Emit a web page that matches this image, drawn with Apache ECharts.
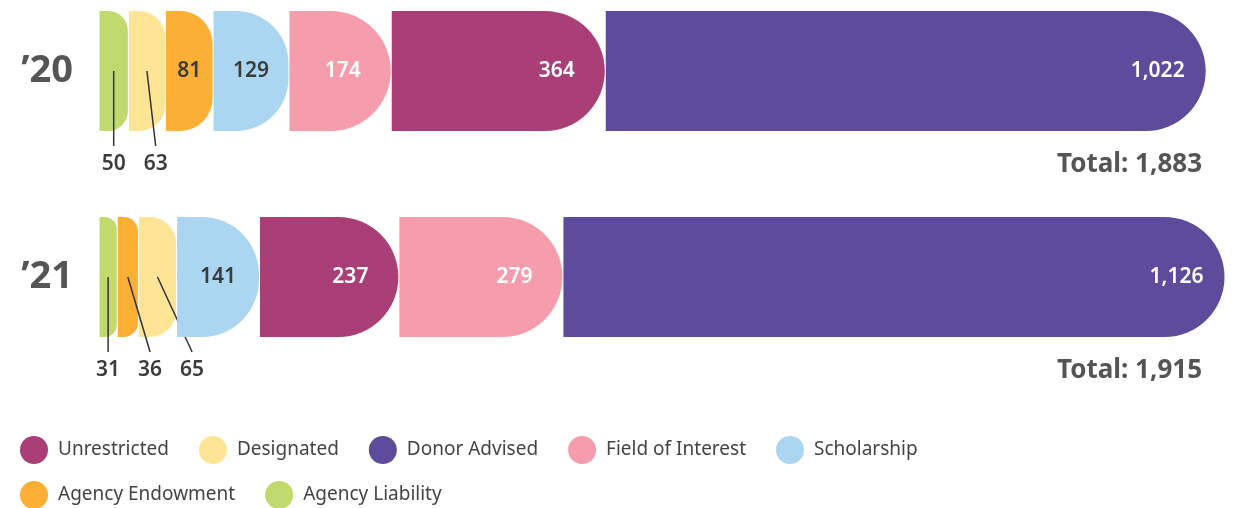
<!DOCTYPE html>
<html>
<head>
<meta charset="utf-8">
<script src="https://cdn.jsdelivr.net/npm/echarts@6/dist/echarts.min.js"></script>
<style>
  html, body { margin: 0; padding: 0; background: #fff; }
  #chart { width: 1239px; height: 508px; }
</style>
</head>
<body>
<div id="chart"></div>
<script>
var years = ['’20', '’21'];
var categories = ['Unrestricted', 'Designated', 'Donor Advised', 'Field of Interest', 'Scholarship', 'Agency Endowment', 'Agency Liability'];
var unrestricted = [364, 237];
var designated = [63, 65];
var donorAdvised = [1022, 1126];
var fieldOfInterest = [174, 279];
var scholarship = [129, 141];
var agencyEndowment = [81, 36];
var agencyLiability = [50, 31];

var valuesByCat = {
  'Unrestricted': unrestricted,
  'Designated': designated,
  'Donor Advised': donorAdvised,
  'Field of Interest': fieldOfInterest,
  'Scholarship': scholarship,
  'Agency Endowment': agencyEndowment,
  'Agency Liability': agencyLiability
};

var colors = {
  'Unrestricted': '#aa3e76',
  'Designated': '#fee596',
  'Donor Advised': '#5e4b9b',
  'Field of Interest': '#f59dac',
  'Scholarship': '#abd6f1',
  'Agency Endowment': '#fbaf34',
  'Agency Liability': '#c0da6e'
};
var darkText = { 'Designated': 1, 'Scholarship': 1, 'Agency Endowment': 1, 'Agency Liability': 1 };

var FONT = '"Noto Sans", "Open Sans", sans-serif';
var SMALL = 75;   // below this the label goes under the bar

function fmt(v) {
  return String(v).replace(/\B(?=(\d{3})+(?!\d))/g, ',');
}

// stack each year smallest first
var segsByCat = {};
var smallByRow = [[], []];
var totals = [];
categories.forEach(function (c) { segsByCat[c] = []; });
years.forEach(function (y, r) {
  var list = categories.map(function (c) { return { name: c, value: valuesByCat[c][r] }; });
  list.sort(function (a, b) { return a.value - b.value; });
  var acc = 0;
  list.forEach(function (s) {
    var item = [acc, acc + s.value, r, s.value, s.value < SMALL ? smallByRow[r].length : -1];
    if (s.value < SMALL) smallByRow[r].push([acc, acc + s.value]);
    segsByCat[s.name].push(item);
    acc += s.value;
  });
  totals.push([acc, r]);
});
var xMax = Math.max.apply(null, totals.map(function (t) { return t[0]; }));

// x positions of the labels under the bar, spread so they don't collide
function smallLabelXs(row, api) {
  var out = [];
  smallByRow[row].forEach(function (s, i) {
    var cx = (api.coord([s[0], row])[0] + api.coord([s[1], row])[0]) / 2;
    if (i > 0) cx = Math.max(cx, out[i - 1] + 42);
    out.push(cx);
  });
  return out;
}

function makeRender(name) {
  return function (params, api) {
    var start = api.value(0), end = api.value(1), row = api.value(2), val = api.value(3), rank = api.value(4);
    var p0 = api.coord([start, row]);
    var p1 = api.coord([end, row]);
    var x0 = p0[0] + 0.5, x1 = p1[0] - 0.5, cy = p0[1];
    var h = 60;
    var w = x1 - x0;
    var r = Math.min(60, w * 0.7);
    var top = cy - h, bot = cy + h;
    var d = 'M' + x0 + ' ' + top +
      ' L' + (x1 - r) + ' ' + top +
      ' A' + r + ' ' + r + ' 0 0 1 ' + x1 + ' ' + (top + r) +
      ' L' + x1 + ' ' + (bot - r) +
      ' A' + r + ' ' + r + ' 0 0 1 ' + (x1 - r) + ' ' + bot +
      ' L' + x0 + ' ' + bot + ' Z';
    var children = [{
      type: 'path',
      shape: { pathData: d },
      style: { fill: colors[name] }
    }];
    var labelFont = '600 21px ' + FONT;
    if (rank >= 0) {
      var cx = x0 + w / 2;
      var lx = smallLabelXs(row, api)[rank];
      children.push({
        type: 'line',
        shape: { x1: cx, y1: cy, x2: lx, y2: cy + 75 },
        style: { stroke: '#333', lineWidth: 1.5 }
      });
      children.push({
        type: 'text',
        style: { text: fmt(val), x: lx, y: cy + 93, fill: '#3b3b3b', font: labelFont, align: 'center', verticalAlign: 'middle' }
      });
    } else {
      children.push({
        type: 'text',
        style: {
          text: fmt(val), x: x1 - Math.min(w / 2, 48), y: cy,
          fill: darkText[name] ? '#3b3b3b' : '#ffffff', font: labelFont,
          align: 'center', verticalAlign: 'middle'
        }
      });
    }
    return { type: 'group', children: children };
  };
}

var series = categories.map(function (c) {
  return {
    name: c,
    type: 'custom',
    renderItem: makeRender(c),
    itemStyle: { color: colors[c] },
    encode: { x: [0, 1], y: 2 },
    data: segsByCat[c]
  };
});

series.push({
  name: 'Total',
  type: 'custom',
  encode: { x: 0, y: 1 },
  data: totals,
  renderItem: function (params, api) {
    var p = api.coord([xMax, api.value(1)]);
    return {
      type: 'text',
      style: {
        text: 'Total: ' + fmt(api.value(0)), x: p[0] - 23, y: p[1] + 94,
        fill: '#555555', font: 'bold 26px ' + FONT, align: 'right', verticalAlign: 'middle'
      }
    };
  }
});

var legendBase = {
  left: 20,
  padding: 0,
  itemWidth: 28,
  itemHeight: 28,
  itemGap: 30,
  icon: 'circle',
  selectedMode: false,
  textStyle: { fontSize: 19, color: '#444', fontFamily: FONT, padding: [0, 0, 0, 5] }
};

var chart = echarts.init(document.getElementById('chart'));
chart.setOption({
  animation: false,
  grid: { left: 99, right: 14, top: 71, bottom: 231 },
  xAxis: { type: 'value', min: 0, max: xMax, show: false },
  yAxis: {
    type: 'category',
    data: years,
    inverse: true,
    boundaryGap: false,
    axisLine: { show: false },
    axisTick: { show: false },
    splitLine: { show: false },
    axisLabel: { margin: 26, fontSize: 38, fontWeight: 'bold', color: '#555', fontFamily: FONT }
  },
  legend: [
    Object.assign({}, legendBase, { top: 436, data: categories.slice(0, 5) }),
    Object.assign({}, legendBase, { top: 481, data: categories.slice(5) })
  ],
  series: series
});
</script>
</body>
</html>
